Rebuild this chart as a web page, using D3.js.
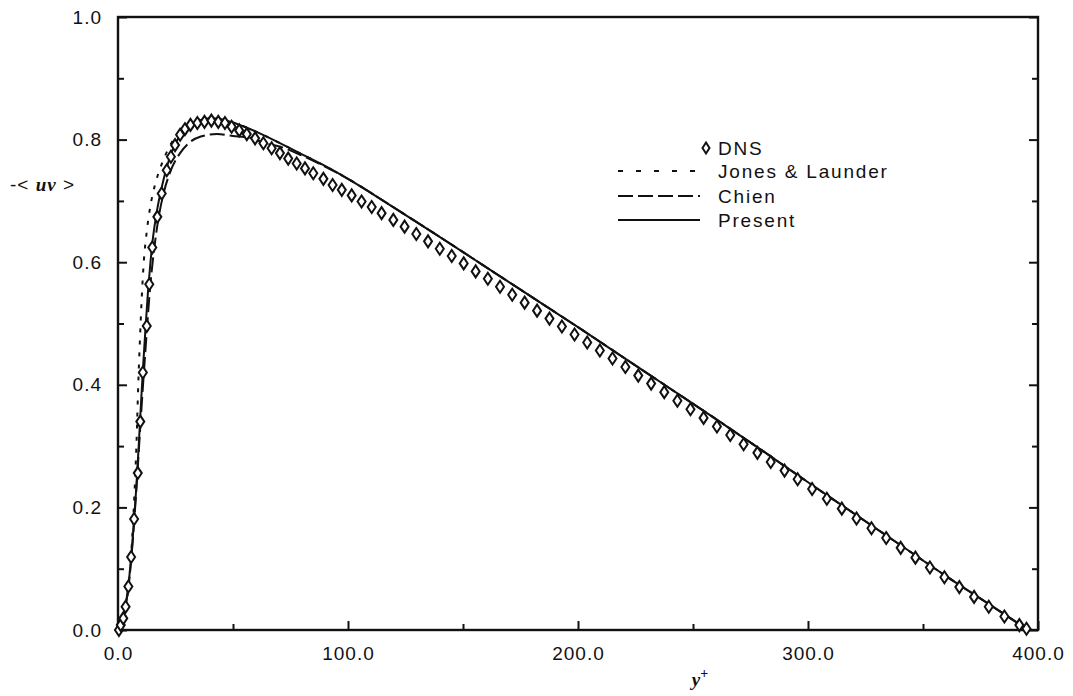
<!DOCTYPE html>
<html>
<head>
<meta charset="utf-8">
<script src="https://cdn.jsdelivr.net/npm/d3@7"></script>
<style>
  html, body { margin: 0; padding: 0; background: #fff; }
  svg { display: block; }
  .tick-label { font-family: "Liberation Sans", Arial, sans-serif; font-size: 19px; letter-spacing: 1px; fill: #111; }
  .legend-label { font-family: "Liberation Sans", Arial, sans-serif; font-size: 19px; letter-spacing: 1.8px; fill: #111; }
</style>
</head>
<body>
<svg id="chart" width="1073" height="696"></svg>
<script>
// Reynolds shear stress -<uv> across the channel half-width, y+ in wall units.

// DNS samples
const dnsY = [0.4, 1.2, 2.3, 3.3, 4.5, 5.7, 7.0, 8.6, 9.7, 10.8, 12.5, 13.6, 14.9, 17.1, 19.0, 21.2, 23.0, 24.8, 27.0, 29.1,
  31.5, 34.5, 37.6, 40.6, 43.6, 46.5, 49.4, 52.7, 56.0, 59.6, 63.2, 66.8, 70.4, 74.0, 77.7, 81.3, 84.9, 89.3, 93.3, 97.3,
  101.6, 105.9, 110.3, 114.6, 119.7, 124.6, 129.7, 134.8, 139.9, 145.1, 150.3, 155.5, 160.8, 166.1, 171.4, 176.8, 182.2,
  187.6, 193.0, 198.5, 204.0, 209.5, 215.0, 220.6, 226.2, 231.8, 237.5, 243.2, 248.9, 254.6, 260.4, 266.2, 272.0, 278.0,
  283.8, 289.8, 295.5, 301.8, 308.2, 314.7, 321.1, 327.6, 334.0, 340.3, 346.7, 353.0, 359.3, 365.8, 372.2, 378.6, 385.4, 391.9, 395.0];
const dnsUV = [0.000, 0.008, 0.019, 0.038, 0.071, 0.119, 0.181, 0.256, 0.340, 0.420, 0.496, 0.564, 0.624, 0.674, 0.712, 0.750, 0.772, 0.791, 0.808, 0.817,
  0.824, 0.827, 0.829, 0.831, 0.829, 0.827, 0.821, 0.815, 0.809, 0.802, 0.794, 0.786, 0.778, 0.769, 0.761, 0.753, 0.745, 0.736, 0.726, 0.718,
  0.709, 0.699, 0.690, 0.680, 0.669, 0.658, 0.646, 0.634, 0.622, 0.610, 0.598, 0.585, 0.573, 0.560, 0.547, 0.534, 0.521,
  0.508, 0.495, 0.482, 0.469, 0.456, 0.443, 0.429, 0.415, 0.402, 0.388, 0.374, 0.360, 0.346, 0.332, 0.318, 0.303, 0.289,
  0.274, 0.260, 0.246, 0.230, 0.214, 0.198, 0.182, 0.166, 0.150, 0.134, 0.118, 0.102, 0.086, 0.070, 0.054, 0.038, 0.022, 0.008, 0.002];

// Jones & Launder model
const jlY  = [0, 2, 4, 6, 7, 8, 8.8, 9.5, 10.3, 11.2, 12.5, 14, 16, 19, 22, 26, 30, 35, 40, 45, 50, 55, 60, 70, 80, 90, 100,
  120, 140, 160, 180, 200, 220, 240, 260, 280, 300, 320, 340, 360, 380, 395];
const jlUV = [0, 0.010, 0.050, 0.140, 0.210, 0.300, 0.400, 0.470, 0.540, 0.600, 0.650, 0.690, 0.725, 0.760, 0.786, 0.810, 0.824, 0.832, 0.835, 0.833, 0.828, 0.821, 0.813, 0.795, 0.776, 0.757, 0.736,
  0.689, 0.641, 0.592, 0.543, 0.494, 0.444, 0.394, 0.344, 0.293, 0.241, 0.190, 0.139, 0.088, 0.039, 0.002];

// Chien model
const chY  = [0, 3, 5, 8, 10, 12, 14, 16, 18, 20, 23, 27, 31, 36, 43, 50, 57, 65, 70, 80, 90, 100,
  120, 140, 160, 180, 200, 220, 240, 260, 280, 300, 320, 340, 360, 380, 395];
const chUV = [0, 0.033, 0.085, 0.230, 0.350, 0.460, 0.560, 0.630, 0.680, 0.715, 0.750, 0.778, 0.795, 0.805, 0.809, 0.806, 0.803, 0.793, 0.789, 0.774, 0.756, 0.736,
  0.689, 0.641, 0.592, 0.543, 0.494, 0.444, 0.394, 0.344, 0.293, 0.241, 0.190, 0.139, 0.088, 0.039, 0.002];

// Present model
const prY  = [0, 1, 2, 3, 4, 5, 6, 7, 8, 9, 10, 11, 12, 13, 14, 15, 17, 19, 21, 23, 25, 28, 31, 35, 40, 45, 50, 55, 60, 70, 80, 90, 100,
  120, 140, 160, 180, 200, 220, 240, 260, 280, 300, 320, 340, 360, 380, 395];
const prUV = [0, 0.004, 0.015, 0.033, 0.058, 0.090, 0.130, 0.180, 0.235, 0.300, 0.370, 0.435, 0.495, 0.550, 0.595, 0.633, 0.685, 0.722, 0.752, 0.776, 0.794, 0.812, 0.823, 0.831, 0.835, 0.833, 0.828, 0.821, 0.813, 0.795, 0.776, 0.757, 0.736,
  0.689, 0.641, 0.592, 0.543, 0.494, 0.444, 0.394, 0.344, 0.293, 0.241, 0.190, 0.139, 0.088, 0.039, 0.002];

const xMajor = [0, 100, 200, 300, 400];
const xMinor = [50, 150, 250, 350];
const yMajor = [0, 0.2, 0.4, 0.6, 0.8, 1.0];
const yMinor = [0.1, 0.3, 0.5, 0.7, 0.9];

const legendNames = ["DNS", "Jones & Launder", "Chien", "Present"];

const svg = d3.select("#chart");
const W = 1073, H = 696;
const margin = { left: 118, right: 35, top: 17, bottom: 66 };
const x = d3.scaleLinear().domain([0, 400]).range([margin.left, W - margin.right]);
const y = d3.scaleLinear().domain([0, 1]).range([H - margin.bottom, margin.top]);

const ink = "#111";
const fmt = d3.format(".1f");

// Frame with inward ticks on the bottom, left and right sides
svg.append("rect")
  .attr("x", x(0)).attr("y", y(1))
  .attr("width", x(400) - x(0)).attr("height", y(0) - y(1))
  .attr("fill", "none").attr("stroke", ink).attr("stroke-width", 2.4);

function xTickSet(values, len, withLabels) {
  svg.append("g").attr("transform", `translate(0,${y(0)})`)
    .call(d3.axisBottom(x).tickValues(values).tickSize(-len).tickFormat(withLabels ? fmt : ""))
    .call(g => g.select(".domain").remove());
}
function yTickSet(values, len, withLabels) {
  svg.append("g").attr("transform", `translate(${x(0)},0)`)
    .call(d3.axisLeft(y).tickValues(values).tickSize(-len).tickFormat(withLabels ? fmt : ""))
    .call(g => g.select(".domain").remove());
  svg.append("g").attr("transform", `translate(${x(400)},0)`)
    .call(d3.axisRight(y).tickValues(values).tickSize(-len).tickFormat(""))
    .call(g => g.select(".domain").remove());
}
xTickSet(xMajor, 9, true);
xTickSet(xMinor, 6, false);
yTickSet(yMajor, 9, true);
yTickSet(yMinor, 6, false);

svg.selectAll(".tick line").attr("stroke", ink).attr("stroke-width", 2);
svg.selectAll(".tick text").attr("class", "tick-label").attr("fill", ink);
svg.selectAll("g.tick text").each(function () {
  const t = d3.select(this);
  if (t.attr("x") !== null && +t.attr("x") < 0) t.attr("x", -16);
  if (t.attr("y") !== null && +t.attr("y") > 0) t.attr("y", 17);
});

// Model curves
const line = d3.line().x(d => x(d[0])).y(d => y(d[1])).curve(d3.curveMonotoneX);
const curves = [
  { xs: jlY, ys: jlUV, dash: "4,8" },
  { xs: chY, ys: chUV, dash: "15,5" },
  { xs: prY, ys: prUV, dash: null }
];
curves.forEach(c => {
  svg.append("path")
    .datum(c.xs.map((v, i) => [v, c.ys[i]]))
    .attr("d", line)
    .attr("fill", "none")
    .attr("stroke", ink)
    .attr("stroke-width", 2)
    .attr("stroke-dasharray", c.dash);
});

// DNS diamonds
const diamond = (cx, cy, w, h) => `M${cx},${cy - h / 2}L${cx + w / 2},${cy}L${cx},${cy + h / 2}L${cx - w / 2},${cy}Z`;
svg.append("g").selectAll("path")
  .data(dnsY.map((v, i) => [v, dnsUV[i]]))
  .join("path")
  .attr("d", d => diamond(x(d[0]), y(d[1]), 8, 12))
  .attr("fill", "#fff")
  .attr("stroke", ink)
  .attr("stroke-width", 2);

// Legend
const lg = svg.append("g");
const lgX0 = 618, lgX1 = 700, lgText = 718;
const rows = [148, 171, 196, 220];
lg.append("path").attr("d", diamond(706, rows[0], 7, 11))
  .attr("fill", "#fff").attr("stroke", ink).attr("stroke-width", 2);
[null, "5,13", "15,5", null].forEach((dash, i) => {
  if (i === 0) return;
  lg.append("line").attr("x1", lgX0).attr("x2", lgX1).attr("y1", rows[i]).attr("y2", rows[i])
    .attr("stroke", ink).attr("stroke-width", 2).attr("stroke-dasharray", dash);
});
legendNames.forEach((name, i) => {
  lg.append("text").attr("class", "legend-label")
    .attr("x", lgText).attr("y", rows[i]).attr("dy", "0.36em").text(name);
});

// Axis titles
const yt = svg.append("text").attr("x", 10).attr("y", 191)
  .attr("font-family", "Liberation Sans, Arial, sans-serif").attr("font-size", 19)
  .attr("letter-spacing", 1).attr("fill", ink);
yt.append("tspan").text("-< ");
yt.append("tspan").attr("font-family", "Liberation Serif, Times New Roman, serif")
  .attr("font-style", "italic").attr("font-weight", "bold").text("uv");
yt.append("tspan").text(" >");

const xt = svg.append("text").attr("x", 700).attr("y", 686).attr("text-anchor", "middle")
  .attr("font-family", "Liberation Serif, Times New Roman, serif")
  .attr("font-style", "italic").attr("font-weight", "bold").attr("font-size", 19).attr("fill", ink);
xt.append("tspan").text("y");
xt.append("tspan").attr("dy", -8).attr("font-size", 14).attr("font-style", "normal").text("+");
</script>
</body>
</html>
